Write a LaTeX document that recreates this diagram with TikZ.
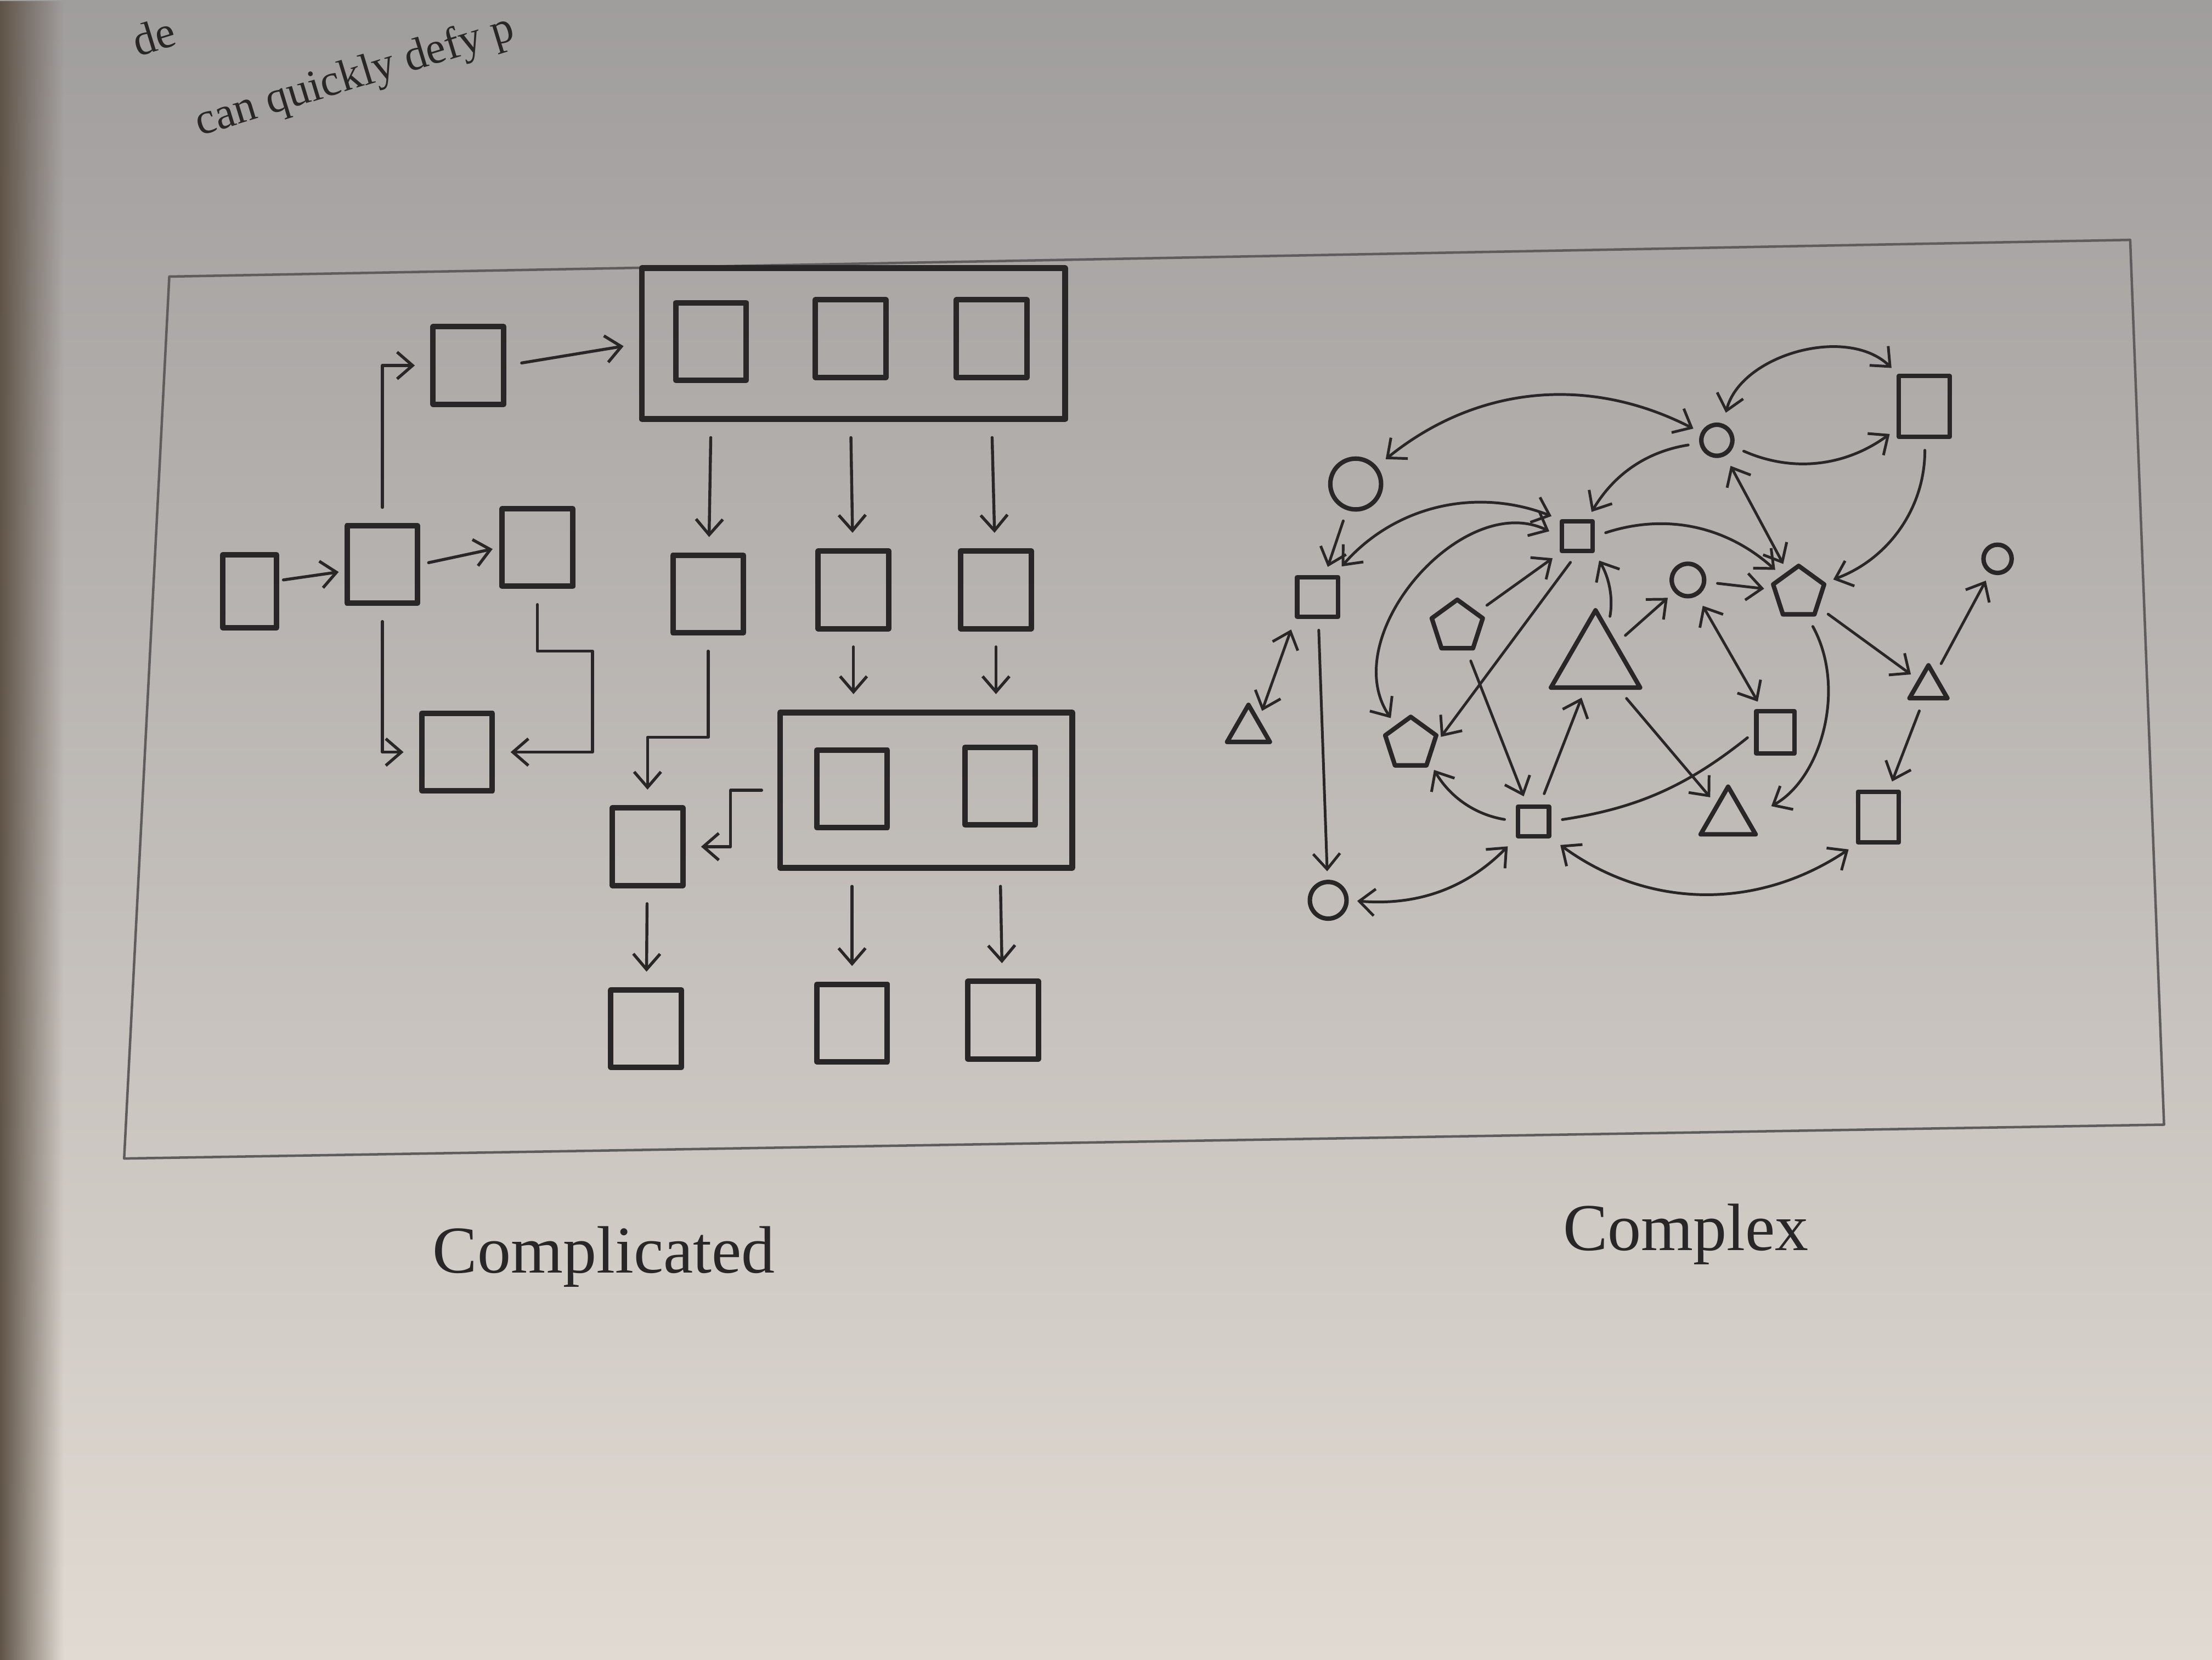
\documentclass[tikz,border=0pt]{standalone}
\usepackage{fontspec}
\setmainfont{Liberation Serif}
\usetikzlibrary{arrows.meta,shapes.geometric,fadings}
\definecolor{ink}{RGB}{40,38,38}
\definecolor{pagetop}{RGB}{160,157,157}
\definecolor{pagemid}{RGB}{212,207,201}
\definecolor{pagebot}{RGB}{224,218,210}
\definecolor{gutter}{RGB}{96,84,72}
\begin{document}
\begin{tikzpicture}[x=0.1mm,y=-0.1mm,line join=round,line cap=round,>={Straight Barb[length=1.1mm,width=1.9mm]},
  box/.style={draw=ink,line width=1.1pt,minimum width=5mm,minimum height=5.5mm,inner sep=0pt},
  group/.style={draw=ink,line width=1.2pt,inner sep=0pt},
  con/.style={draw=ink,line width=0.6pt,shorten <=1.1mm,shorten >=1.1mm},
  sq/.style={draw=ink,line width=0.9pt,inner sep=0pt},
  dot/.style={circle,draw=ink,line width=0.9pt,inner sep=0pt},
  pent/.style={regular polygon,regular polygon sides=5,draw=ink,line width=0.9pt,inner sep=0pt,minimum size=3.8mm},
  tri/.style={regular polygon,regular polygon sides=3,draw=ink,line width=0.9pt,inner sep=0pt},
  edge/.style={draw=ink,line width=0.55pt,shorten <=0.8mm,shorten >=0.6mm},
  caption/.style={anchor=base,text=ink,font=\fontsize{13.5}{16}\selectfont},
  pagetext/.style={rotate=17,anchor=base west,text=ink,font=\fontsize{9}{11}\selectfont}]
\def \W{1568};
\def \H{1176};
\useasboundingbox (0,0) rectangle (\W,\H);
\shade[top color=pagetop,middle color=pagemid,bottom color=pagebot] (0,0) rectangle (\W,\H);
\fill[gutter,path fading=east] (0,0) rectangle (45,\H);
\draw[ink!75,line width=0.5pt] (120,196) -- (1510,170) -- (1534,797) -- (88,821) -- cycle;
\node[pagetext] (pga) at (86,44) {de};
\node[pagetext] (pgb) at (130,100) {can quickly defy p};

\node[box,minimum width=3.8mm,minimum height=5.2mm] (a) at (177,419) {};
\foreach \n/\x/\y in {b/271/400,c/332/259,d/381/388,e/324/533,f/459/600,r1/502/421,r2/605/418,r3/706/418,i1/504/242,i2/603/240,i3/703/240,j1/604/559,j2/709/557,k1/458/729,k2/604/725,k3/711/723}{\node[box] (\n) at (\x,\y) {};}
\node[group,minimum width=30mm,minimum height=10.7mm] (g1) at (605,243.5) {};
\node[group,minimum width=20.7mm,minimum height=11mm] (g2) at (656.5,560) {};

\draw[con,->,shorten <=0.3mm,shorten >=0.4mm] (a.20) -- (b.190);
\draw[con,->,shorten <=0.6mm,shorten >=0.5mm] (b.east) -- (d.west);
\draw[con,->] (b.north) |- (c.west);
\draw[con,->] (b.south) |- (e.west);
\draw[con,->] (d.south) -- ++(0,44) -- ++(39,0) |- (e.east);
\draw[con,->] (c.east) -- (g1.west);
\foreach \i in {1,2,3}{\draw[con,->] (i\i.south |- g1.south) -- (r\i);}
\draw[con,->] (r2.south) -- (r2.south |- g2.north);
\draw[con,->] (r3.south) -- (r3.south |- g2.north);
\draw[con,->] (r1.south) -- ++(0,72) -| (f.north);
\draw[con,->] (g2.west) -- ++(-33,0) |- (f.east);
\draw[con,->] (f) -- (k1);
\draw[con,->] (j1.south |- g2.south) -- (k2);
\draw[con,->] (j2.south |- g2.south) -- (k3);

\foreach \n/\x/\y/\w/\h in {s1/1364/288/3.6/4.3,s2/1118/380/2.2/2.1,s3/934/423/2.9/2.8,s4/1258.5/519/2.7/3.0,s5/1087/582/2.2/2.1,s6/1331.5/579/2.9/3.6}{\node[sq,minimum width=\w mm,minimum height=\h mm] (\n) at (\x,\y) {};}
\foreach \n/\x/\y/\r in {o1/1217/312/2.2,o2/961/343/3.6,o3/1196.5/411/2.3,o4/1416/396/2.0,o5/941.5/638/2.6}{\node[dot,minimum size=\r mm] (\n) at (\x,\y) {};}
\foreach \n/\x/\y in {p1/1275/420,p2/1033/444,p3/1000/527}{\node[pent] (\n) at (\x,\y) {};}
\foreach \n/\x/\y/\r in {t1/1131/469/7.3,t2/885/517/3.5,t3/1367/487/3.1,t4/1225/580/4.5}{\node[tri,minimum size=\r mm] (\n) at (\x,\y) {};}

\draw[edge,<->] (o2) to[bend left=33] (o1);
\draw[edge,<->] (o1) to[bend left=60] (s1);
\draw[edge,->] (o1) to[bend right=30] (s1);
\draw[edge,->] (o1) to[bend right=25] (s2);
\draw[edge,<->] (o1) -- (p1);
\draw[edge,->] (s1) to[bend left=35] (p1);
\draw[edge,->] (o2) -- (s3);
\draw[edge,<->] (s3) to[bend left=35] (s2.north west);
\draw[edge,<->] (s2.west) to[bend right=75,looseness=1.1] (p3);
\draw[edge,->] (p2) -- (s2.south west);
\draw[edge,->] (s2.south) -- (p3.east);
\draw[edge,->] (t1.70) to[bend right=20] (s2.south east);
\draw[edge,->] (s2.east) to[bend left=30] (p1.north west);
\draw[edge,->] (o3) -- (p1);
\draw[edge,->] (t1) -- (o3);
\draw[edge,<->] (o3) -- (s4);
\draw[edge,->] (p1) -- (t3);
\draw[edge,->] (t3) -- (o4);
\draw[edge,->] (t3) -- (s6);
\draw[edge,->,shorten >=1.8mm] (p1.-70) to[bend left=45] (t4.east);
\draw[edge,->] (p2) -- (s5);
\draw[edge,->] (s5) -- (t1);
\draw[edge,->] (t1) -- (t4);
\draw[edge,->] (s5.west) to[bend left=25] (p3.south east);
\draw[edge] (s5.east) to[bend right=15] (s4.west);
\draw[edge,->] (s3) -- (o5);
\draw[edge,<->] (s3.south west) -- (t2.north east);
\draw[edge,<->] (s5.south west) to[bend left=25] (o5.east);
\draw[edge,<->] (s5.south east) to[bend right=35] (s6.south west);

\node[caption] (lcd) at (428,902) {Complicated};
\node[caption] (lcx) at (1195,886) {Complex};
\end{tikzpicture}
\end{document}
